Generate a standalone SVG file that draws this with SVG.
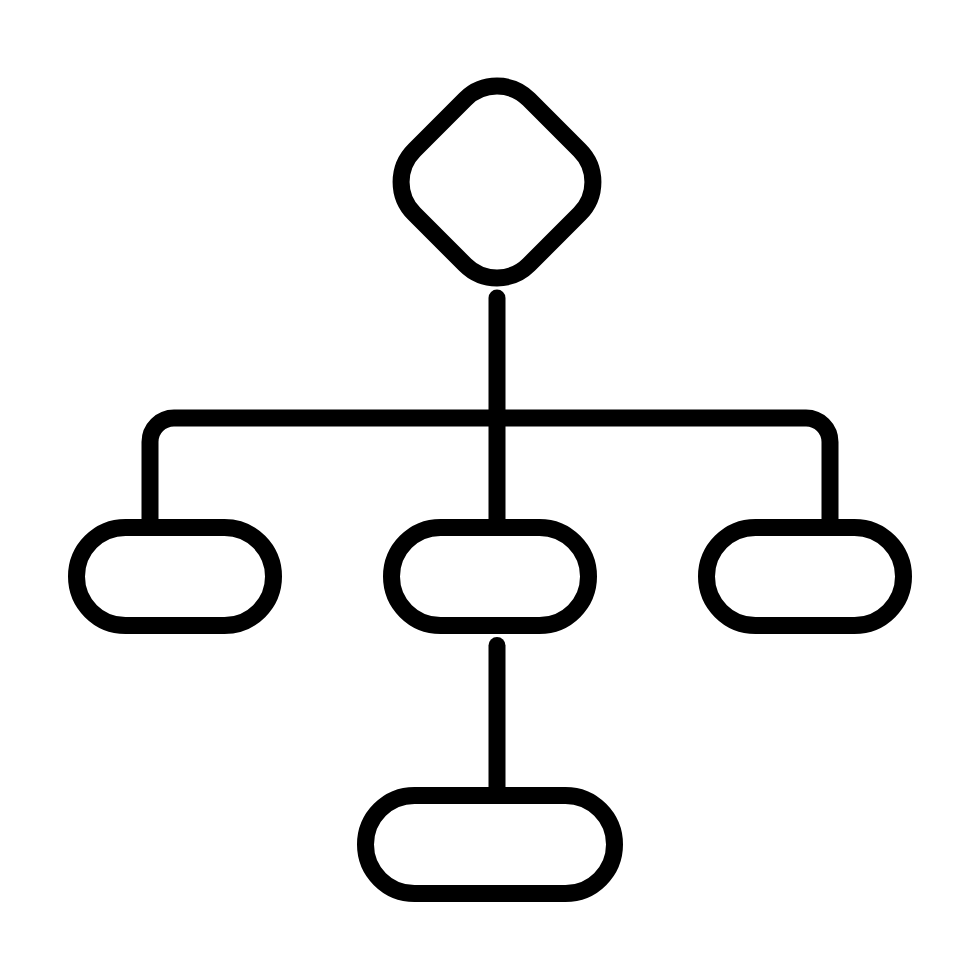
<svg xmlns="http://www.w3.org/2000/svg" width="980" height="980" viewBox="0 0 980 980">
  <style>
    .s { fill: none; stroke: #000; stroke-width: 17; }
    .c { fill: none; stroke: #000; stroke-width: 17; stroke-linecap: round; stroke-linejoin: round; }
  </style>
  <rect width="980" height="980" fill="#fff"/>
  <g id="connectors">
    <path class="c" d="M497 298 V527"/>
    <path class="s" d="M150 527 V442 A24 24 0 0 1 174 418 H806 A24 24 0 0 1 830 442 V527"/>
    <path class="c" d="M497 645.5 V795"/>
  </g>
  <g id="decision">
    <rect class="s" x="-81" y="-81" width="162" height="162" rx="45" transform="translate(497 182) rotate(45)"/>
  </g>
  <g id="node-left">
    <rect class="s" x="76.5" y="527.5" width="197" height="98" rx="49"/>
  </g>
  <g id="node-middle">
    <rect class="s" x="391.5" y="527.5" width="197" height="98" rx="49"/>
  </g>
  <g id="node-right">
    <rect class="s" x="706.5" y="527.5" width="197" height="98" rx="49"/>
  </g>
  <g id="node-bottom">
    <rect class="s" x="365.5" y="795.5" width="249" height="98" rx="49"/>
  </g>
</svg>
